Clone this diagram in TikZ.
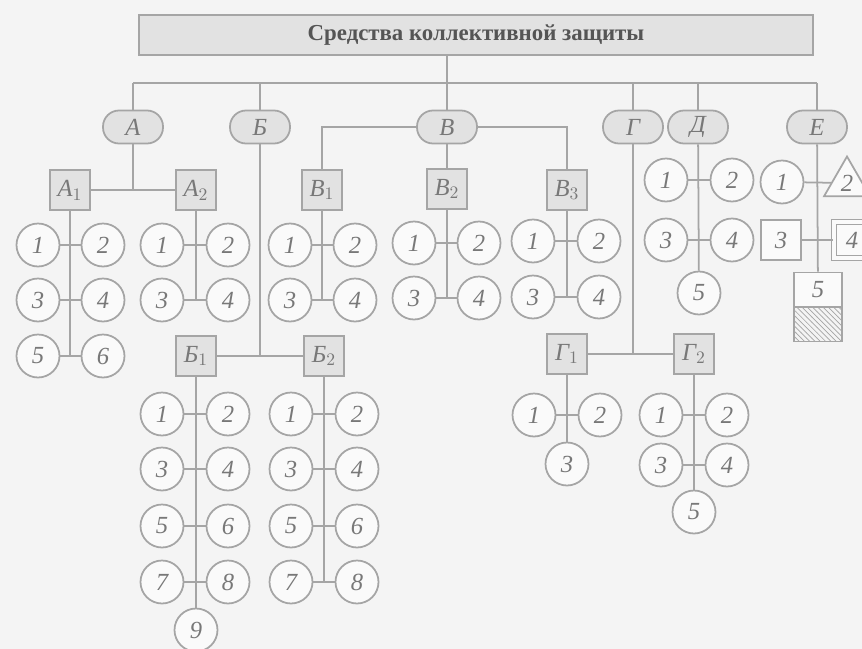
\documentclass[tikz,border=0pt]{standalone}
\usepackage{fontspec}
\setmainfont{Liberation Serif}
\usetikzlibrary{shapes.geometric,patterns}
\definecolor{bgray}{RGB}{244,244,244}
\definecolor{lgray}{RGB}{165,165,165}
\definecolor{fgray}{RGB}{226,226,226}
\definecolor{wgray}{RGB}{250,250,250}
\definecolor{tgray}{RGB}{120,120,120}
\definecolor{hgray}{RGB}{85,85,85}
\begin{document}
\begin{tikzpicture}[x=0.02cm,y=-0.02cm]
\tikzstyle{every node}+=[inner sep=0pt,text=tgray,font=\fontsize{14}{16}\selectfont\itshape]
\tikzstyle{head}=[draw=lgray,fill=fgray,line width=1pt,minimum width=13.48cm,minimum height=0.8cm,text=hgray,font=\fontsize{13}{16}\selectfont\bfseries]
\tikzstyle{kind}=[draw=lgray,fill=fgray,line width=1pt,rounded corners=0.32cm,minimum width=1.2cm,minimum height=0.66cm]
\tikzstyle{part}=[draw=lgray,fill=fgray,line width=1pt,minimum size=0.8cm]
\tikzstyle{item}=[draw=lgray,fill=wgray,line width=1pt,circle,minimum size=0.86cm]
\tikzstyle{plainbox}=[draw=lgray,fill=wgray,line width=1pt,minimum size=0.8cm]
\tikzstyle{link}=[draw=lgray,line width=1pt]
\useasboundingbox (0,0) rectangle (862,649);
\fill[bgray] (0,0) rectangle (862,649);
\clip (0,0) rectangle (862,649);
\node[head] (top) at (476,35) {Средства коллективной защиты};
\coordinate (bus) at (0,83);
\node[kind] (oA) at (133,127) {А};
\node[kind] (oB) at (260,127) {Б};
\node[kind] (oV) at (447,127) {В};
\node[kind] (oG) at (633,127) {Г};
\node[kind] (oD) at (698,127) {Д};
\node[kind] (oE) at (817,127) {Е};
\node[part] (a1) at (70,190) {А$_1$};
\node[part] (a2) at (196,190) {А$_2$};
\node[item] (a11) at (38,245) {1};
\node[item] (a12) at (103,245) {2};
\node[item] (a13) at (38,300) {3};
\node[item] (a14) at (103,300) {4};
\node[item] (a15) at (38,356) {5};
\node[item] (a16) at (103,356) {6};
\node[item] (a21) at (162,245) {1};
\node[item] (a22) at (228,245) {2};
\node[item] (a23) at (162,300) {3};
\node[item] (a24) at (228,300) {4};
\node[part] (b1) at (196,356) {Б$_1$};
\node[part] (b2) at (324,356) {Б$_2$};
\node[item] (b11) at (162,414) {1};
\node[item] (b12) at (228,414) {2};
\node[item] (b13) at (162,469) {3};
\node[item] (b14) at (228,469) {4};
\node[item] (b15) at (162,526) {5};
\node[item] (b16) at (228,526) {6};
\node[item] (b17) at (162,582) {7};
\node[item] (b18) at (228,582) {8};
\node[item] (b19) at (196,630) {9};
\node[item] (b21) at (291,414) {1};
\node[item] (b22) at (357,414) {2};
\node[item] (b23) at (291,469) {3};
\node[item] (b24) at (357,469) {4};
\node[item] (b25) at (291,526) {5};
\node[item] (b26) at (357,526) {6};
\node[item] (b27) at (291,582) {7};
\node[item] (b28) at (357,582) {8};
\node[part] (v1) at (322,190) {В$_1$};
\node[part] (v2) at (447,189) {В$_2$};
\node[part] (v3) at (567,190) {В$_3$};
\node[item] (v11) at (290,245) {1};
\node[item] (v12) at (355,245) {2};
\node[item] (v13) at (290,300) {3};
\node[item] (v14) at (355,300) {4};
\node[item] (v21) at (414,243) {1};
\node[item] (v22) at (479,243) {2};
\node[item] (v23) at (414,298) {3};
\node[item] (v24) at (479,298) {4};
\node[item] (v31) at (533,241) {1};
\node[item] (v32) at (599,241) {2};
\node[item] (v33) at (533,297) {3};
\node[item] (v34) at (599,297) {4};
\node[part] (g1) at (567,354) {Г$_1$};
\node[part] (g2) at (694,354) {Г$_2$};
\node[item] (g11) at (534,415) {1};
\node[item] (g12) at (600,415) {2};
\node[item] (g13) at (567,464) {3};
\node[item] (g21) at (661,415) {1};
\node[item] (g22) at (727,415) {2};
\node[item] (g23) at (661,465) {3};
\node[item] (g24) at (727,465) {4};
\node[item] (g25) at (694,512) {5};
\node[item] (d1) at (666,180) {1};
\node[item] (d2) at (732,180) {2};
\node[item] (d3) at (666,240) {3};
\node[item] (d4) at (732,240) {4};
\node[item] (d5) at (699,293) {5};
\node[item] (e1) at (782,182) {1};
\node[regular polygon,regular polygon sides=3,draw=lgray,fill=wgray,line width=1pt,minimum size=1.06cm] (e2) at (847,183) {2};
\node[plainbox] (e3) at (781,240) {3};
\node[draw=lgray,fill=wgray,double=wgray,double distance=2pt,line width=0.9pt,minimum size=0.72cm] (e4) at (852,240) {4};
\node[plainbox,minimum width=0.96cm,minimum height=0.7cm] (e5) at (818,290) {5};
\node[draw=lgray,line width=1pt,pattern=north west lines,pattern color=lgray,minimum width=0.96cm,minimum height=0.7cm] (e6) at (818,324) {};
\draw[link] (oV |- top.south) -- (oV);
\draw[link] (oA |- bus) -- (oE |- bus);
\draw[link] (oA) -- (oA |- bus);
\draw[link] (oB) -- (oB |- bus);
\draw[link] (oG) -- (oG |- bus);
\draw[link] (oD) -- (oD |- bus);
\draw[link] (oE) -- (oE |- bus);
\draw[link] (oA) -- (oA |- a1);
\draw[link] (a1) -- (a2);
\draw[link] (a1) -- (a1 |- a15);
\draw[link] (a11) -- (a12);
\draw[link] (a13) -- (a14);
\draw[link] (a15) -- (a16);
\draw[link] (a2) -- (a2 |- a23);
\draw[link] (a21) -- (a22);
\draw[link] (a23) -- (a24);
\draw[link] (oB) -- (oB |- b1);
\draw[link] (b1) -- (b2);
\draw[link] (b1) -- (b19);
\draw[link] (b11) -- (b12);
\draw[link] (b13) -- (b14);
\draw[link] (b15) -- (b16);
\draw[link] (b17) -- (b18);
\draw[link] (b2) -- (b2 |- b27);
\draw[link] (b21) -- (b22);
\draw[link] (b23) -- (b24);
\draw[link] (b25) -- (b26);
\draw[link] (b27) -- (b28);
\draw[link] (oV) -- (v2);
\draw[link] (v1) |- (oV);
\draw[link] (oV) -| (v3);
\draw[link] (v1) -- (v1 |- v13);
\draw[link] (v11) -- (v12);
\draw[link] (v13) -- (v14);
\draw[link] (v2) -- (v2 |- v23);
\draw[link] (v21) -- (v22);
\draw[link] (v23) -- (v24);
\draw[link] (v3) -- (v3 |- v33);
\draw[link] (v31) -- (v32);
\draw[link] (v33) -- (v34);
\draw[link] (oG) -- (oG |- g1);
\draw[link] (g1) -- (g2);
\draw[link] (g1) -- (g13);
\draw[link] (g11) -- (g12);
\draw[link] (g2) -- (g25);
\draw[link] (g21) -- (g22);
\draw[link] (g23) -- (g24);
\draw[link] (oD) -- (d5);
\draw[link] (d1) -- (d2);
\draw[link] (d3) -- (d4);
\draw[link] (oE) -- (e5);
\draw[link] (e1) -- (e2);
\draw[link] (e3) -- (e4);
\end{tikzpicture}
\end{document}
